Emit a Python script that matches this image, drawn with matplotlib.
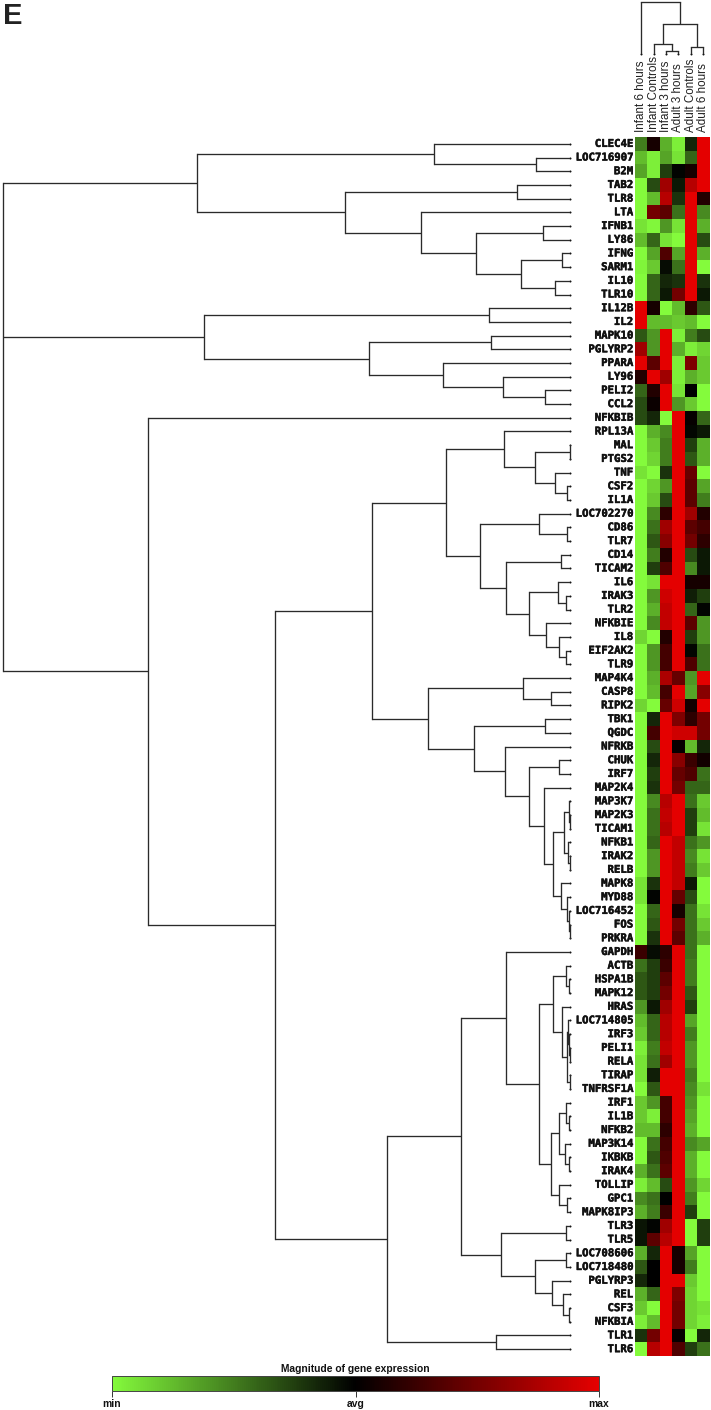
import numpy as np
import matplotlib
matplotlib.use("Agg")
import matplotlib.pyplot as plt
import matplotlib.patheffects as pe
from matplotlib.colors import LinearSegmentedColormap
from matplotlib.cm import ScalarMappable
from matplotlib.colors import Normalize

W, H = 711, 1410

samples = ["Infant 6 hours", "Infant Controls", "Infant 3 hours",
           "Adult 3 hours", "Adult Controls", "Adult 6 hours"]

genes = ["CLEC4E", "LOC716907", "B2M", "TAB2", "TLR8", "LTA", "IFNB1", "LY86", "IFNG", "SARM1",
         "IL10", "TLR10", "IL12B", "IL2", "MAPK10", "PGLYRP2", "PPARA", "LY96", "PELI2", "CCL2",
         "NFKBIB", "RPL13A", "MAL", "PTGS2", "TNF", "CSF2", "IL1A", "LOC702270", "CD86", "TLR7",
         "CD14", "TICAM2", "IL6", "IRAK3", "TLR2", "NFKBIE", "IL8", "EIF2AK2", "TLR9", "MAP4K4",
         "CASP8", "RIPK2", "TBK1", "QGDC", "NFRKB", "CHUK", "IRF7", "MAP2K4", "MAP3K7", "MAP2K3",
         "TICAM1", "NFKB1", "IRAK2", "RELB", "MAPK8", "MYD88", "LOC716452", "FOS", "PRKRA", "GAPDH",
         "ACTB", "HSPA1B", "MAPK12", "HRAS", "LOC714805", "IRF3", "PELI1", "RELA", "TIRAP", "TNFRSF1A",
         "IRF1", "IL1B", "NFKB2", "MAP3K14", "IKBKB", "IRAK4", "TOLLIP", "GPC1", "MAPK8IP3", "TLR3",
         "TLR5", "LOC708606", "LOC718480", "PGLYRP3", "REL", "CSF3", "NFKBIA", "TLR1", "TLR6"]

# expression per gene, -1 = min, 0 = avg, 1 = max
expression = [
    [-.5, .1, -.7, -.95, -.15, 1], [-.75, -.95, -.65, -.9, -.4, 1], [-.65, -.95, -.25, -.02, .1, 1],
    [-1, -.3, .7, -.1, .8, 1], [-1, -.75, .8, -.2, 1, .15], [-1, .5, .4, -.45, 1, -.55],
    [-.9, -.98, -.6, -.9, 1, -.7], [-.75, -.4, -.9, -1, 1, -.3], [-1, -.65, .35, -.65, 1, -.7],
    [-.97, -.8, -.05, -.45, 1, -1], [-1, -.4, -.15, -.2, 1, -.2], [-1, -.4, -.1, .5, 1, -.1],
    [1, .1, -1, -.75, .2, -.35], [1, -.75, -.75, -.8, -.75, -1], [-.35, -.6, 1, -.95, -.5, -.3],
    [.7, -.6, 1, -.7, -.95, -.85], [1, .4, 1, -.95, .55, -.8], [.15, 1, .7, -.95, -.7, -.8],
    [-.4, .15, 1, -.9, 0, -1], [-.3, .05, 1, -.6, -.8, -1], [-.3, -.15, -1, 1, .03, -.4],
    [-1, -.7, -.55, 1, -.03, -.1], [-1, -.8, -.5, 1, -.25, -.7], [-1, -.85, -.5, 1, -.35, -.7],
    [-.9, -1, -.2, 1, .45, -1], [-1, -.85, -.6, 1, .4, -.65], [-1, -.8, -.3, 1, .4, -.5],
    [-1, -.55, .2, 1, .7, .15], [-1, -.45, .7, 1, .4, .3], [-1, -.35, .6, 1, .5, .2],
    [-1, -.5, .15, 1, -.3, -.1], [-1, -.25, .35, 1, -.55, -.1], [-1, -.9, 1, 1, .1, .1],
    [-1, -.6, .9, 1, -.12, -.25], [-1, -.7, .85, 1, -.4, -.02], [-1, -.55, .85, 1, .4, -.6],
    [-.85, -1, .15, 1, -.25, -.6], [-1, -.6, .3, 1, -.03, -.45], [-1, -.6, .3, 1, .35, -.45],
    [-1, -.7, .75, .45, -.6, 1], [-1, -.75, .3, 1, -.65, .6], [-.85, -1, .45, .9, .08, 1],
    [-1, -.15, 1, .55, .2, .5], [-1, .3, 1, .9, .9, .5], [-1, -.3, 1, .03, -.75, -.15],
    [-1, -.15, 1, .6, .25, .08], [-1, -.25, 1, .45, .35, -.45], [-1, -.2, 1, .5, -.4, -.4],
    [-1, -.55, .8, 1, -.45, -.8], [-1, -.45, .85, 1, -.25, -.75], [-1, -.45, .8, 1, -.25, -.9],
    [-1, -.4, 1, .85, -.45, -.6], [-1, -.6, 1, .85, -.55, -.9], [-1, -.6, 1, .85, -.5, -.8],
    [-.9, -.2, 1, .85, -.1, -1], [-.9, -.02, 1, .45, -.3, -1], [-1, -.4, 1, .1, -.45, -.9],
    [-1, -.35, 1, .5, -.45, -.8], [-1, -.2, 1, .4, -.45, -.7], [.25, -.05, .2, 1, -.45, -1],
    [-.45, -.25, .25, 1, -.5, -1], [-.35, -.25, .4, 1, -.5, -1], [-.35, -.25, .5, 1, -.35, -1],
    [-.6, -.1, .7, 1, -.25, -1], [-.75, -.4, .8, 1, -.65, -1], [-.8, -.4, .8, 1, -.5, -1],
    [-.95, -.5, .85, 1, -.6, -1], [-.9, -.45, .7, 1, -.6, -1], [-.9, -.12, 1, 1, -.5, -1],
    [-1, -.35, 1, 1, -.55, -.9], [-.8, -.6, .3, 1, -.6, -1], [-.8, -.95, .3, 1, -.65, -1],
    [-.75, -.75, .2, 1, -.7, -1], [-1, -.45, .3, 1, -.55, -.65], [-1, -.35, .35, 1, -.7, -1],
    [-.7, -.45, .4, 1, -.7, -1], [-.95, -.75, -.3, 1, -.6, -.85], [-.55, -.45, 0, 1, -.5, -1],
    [-.7, -.5, .25, 1, -.25, -1], [-.08, -.02, .7, 1, -1, -.25], [-.08, .4, .8, 1, -1, -.25],
    [-.7, -.15, 1, .1, -.65, -1], [-.35, 0, 1, .1, -.5, -1], [-.15, 0, 1, 1, -.8, -1],
    [-.7, -.4, 1, .55, -.85, -1], [-.8, -1, 1, .5, -.85, -.9], [-.95, -.75, 1, .5, -.85, -.95],
    [-.2, .5, 1, .03, -1, -.15], [-1, .8, 1, .35, -.25, -.45],
]

# clusters are (merge position, child, child, ...), ints are 1-based leaf numbers
clust_a = (197, (434, 1, (536, 2, 3)),
           (345, (517, 4, 5), (421, 6, (476, (543, 7, 8), (521, (562, 9, 10), (555, 11, 12))))))
clust_b = (204, (489, 13, 14),
           (369, (491, 15, 16), (443, 17, (503, 18, (545, 19, 20)))))
clust_c1 = (446, (504, 22, (535, (570, 23, 24), (555, 25, (567, 26, 27)))),
            (480, (539, 28, (567, 29, 30)),
             (506, (561, 31, 32),
              (529, (558, 33, (566, 34, 35)), (546, 36, (559, 37, (566, 38, 39)))))))
clust_c2 = (428, (523, 40, (551, 41, 42)),
            (474, (545, 43, 44),
             (505, 45, (529, (559, 46, 47),
                        (544, 48, (553, (564, (569, 49, (570, 50, 51)), (568, 52, (570, 53, 54))),
                                   (561, 55, (567, 56, (569, 57, (570, 58, 59))))))))))
clust_d1 = (553, (566, 61, (569, 62, 63)),
            (562, 64, (567, (568, 65, (569, 66, (570, 67, 68))), (570, 69, 70))))
clust_d2 = (551, (559, (566, 71, (569, 72, 73)), (565, 74, (569, 75, 76))),
            (559, 77, (567, 78, 79)))
clust_d3 = (501, (566, 80, 81),
            (535, (566, 82, 83), (552, 84, (563, 85, (569, 86, 87)))))
clust_d = (387, (461, (506, 60, (539, clust_d1, clust_d2)), clust_d3), (496, 88, 89))
clust_c = (148, 21, (275, (372, clust_c1, clust_c2), clust_d))
row_tree = (3, clust_a, clust_b, clust_c)

# same thing for the samples, position is height from the top
col_tree = (2, 1, (24, (44, 2, (51, 3, 4)), (47, 5, 6)))

green_hi = "#84fb3c"
red_hi = "#e40000"
line_col = "#2a2a2a"
line_w = 0.95
cmap = LinearSegmentedColormap.from_list("gr", [green_hi, "#000000", red_hi])


def px_axes(fig, x0, y0, x1, y1):
    # axes from pixel box, y from the top of the image
    return fig.add_axes([x0 / W, 1 - y1 / H, (x1 - x0) / W, (y1 - y0) / H])


def draw_row_node(ax, node, leaf_x=570):
    if isinstance(node, int):
        ax.plot([leaf_x], [node - 0.5], ".", ms=2.8, color="black", mew=0)
        return leaf_x, node - 0.5
    pos = node[0]
    ys = []
    for child in node[1:]:
        cx, cy = draw_row_node(ax, child, leaf_x)
        ax.plot([pos, cx], [cy, cy], color=line_col, lw=line_w, solid_capstyle="butt")
        ys.append(cy)
    ax.plot([pos, pos], [ys[0], ys[-1]], color=line_col, lw=line_w, solid_capstyle="projecting")
    return pos, (ys[0] + ys[-1]) / 2


def draw_col_node(ax, node, leaf_y=54):
    if isinstance(node, int):
        ax.plot([node - 0.5], [leaf_y], ".", ms=2.8, color="black", mew=0, clip_on=False)
        return node - 0.5, leaf_y
    pos = node[0]
    xs = []
    for child in node[1:]:
        cx, cy = draw_col_node(ax, child, leaf_y)
        ax.plot([cx, cx], [pos, cy], color=line_col, lw=line_w, solid_capstyle="butt", clip_on=False)
        xs.append(cx)
    ax.plot([xs[0], xs[-1]], [pos, pos], color=line_col, lw=line_w, solid_capstyle="projecting", clip_on=False)
    return (xs[0] + xs[-1]) / 2, pos


fig = plt.figure(figsize=(W / 100, H / 100), dpi=100, facecolor="white")

# heatmap
TOP, BOTTOM = 137, 1356
LEFT, RIGHT = 635, 709.5
ax_heat = px_axes(fig, LEFT, TOP, RIGHT, BOTTOM)
ax_heat.imshow(np.array(expression), cmap=cmap, vmin=-1, vmax=1, aspect="auto",
               interpolation="nearest", extent=(0, len(samples), len(genes), 0))
ax_heat.axis("off")

# gene labels, a bit thickened since the original font is heavy
for i, g in enumerate(genes):
    ax_heat.text(-0.16, i + 0.5, g, ha="right", va="center", fontsize=7.7,
                 family="DejaVu Sans Mono", fontweight="bold", color="#111111",
                 path_effects=[pe.withStroke(linewidth=0.35, foreground="#111111")])

# sample labels
for j, s in enumerate(samples):
    ax_heat.text(j + 0.5, -0.33, s, rotation=90, ha="center", va="bottom", fontsize=8.4,
                 family="Liberation Sans", color="#222222")

# row dendrogram
ax_rows = px_axes(fig, 0, TOP, 575, BOTTOM)
ax_rows.set_xlim(0, 575)
ax_rows.set_ylim(len(genes), 0)
ax_rows.axis("off")
draw_row_node(ax_rows, row_tree)

# column dendrogram
ax_cols = px_axes(fig, LEFT, 0, RIGHT, 60)
ax_cols.set_xlim(0, len(samples))
ax_cols.set_ylim(60, 0)
ax_cols.axis("off")
draw_col_node(ax_cols, col_tree)

# colour bar
ax_bar = px_axes(fig, 112, 1376, 599, 1391)
sm = ScalarMappable(norm=Normalize(-1, 1), cmap=cmap)
bar = fig.colorbar(sm, cax=ax_bar, orientation="horizontal")
bar.solids.set_edgecolor("face")
bar.set_ticks([-1, 0, 1])
bar.set_ticklabels(["min", "avg", "max"])
bar.ax.tick_params(length=4, width=0.7, color="#333333", pad=1.5)
for t in bar.ax.get_xticklabels():
    t.set_fontsize(7.4)
    t.set_fontweight("bold")
    t.set_family("Liberation Sans")
    t.set_color("#111111")
bar.outline.set_edgecolor("#444444")
bar.outline.set_linewidth(0.7)
bar.ax.set_title("Magnitude of gene expression", fontsize=7.4, fontweight="bold",
                 family="Liberation Sans", color="#111111", pad=3)

fig.text(3 / W, 1 - 24 / H, "E", fontsize=21, fontweight="bold", family="Liberation Sans",
         color="#222222", ha="left", va="baseline")

fig.savefig("out.png", dpi=100)
